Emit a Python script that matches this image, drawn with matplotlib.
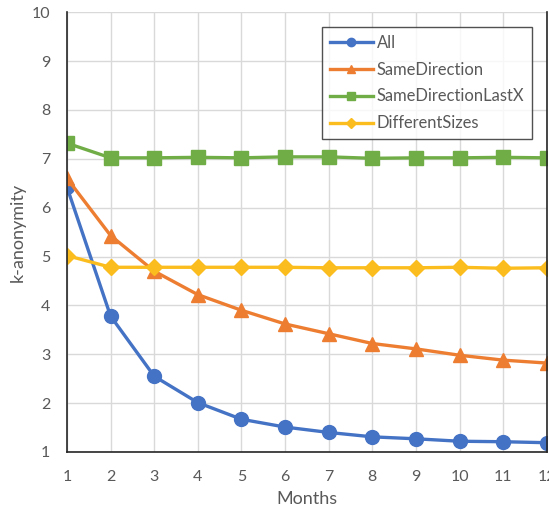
import numpy as np
import matplotlib
matplotlib.use("Agg")
import matplotlib.pyplot as plt

# Data
months = np.arange(1, 13)
k_all = [6.42, 3.78, 2.55, 2.01, 1.67, 1.51, 1.40, 1.31, 1.27, 1.22, 1.21, 1.19]
k_same_dir = [6.60, 5.43, 4.70, 4.22, 3.90, 3.62, 3.42, 3.22, 3.11, 2.98, 2.88, 2.82]
k_same_dir_lastx = [7.32, 7.02, 7.02, 7.03, 7.02, 7.04, 7.04, 7.01, 7.02, 7.02, 7.03, 7.02]
k_diff_sizes = [5.02, 4.78, 4.78, 4.78, 4.78, 4.78, 4.77, 4.77, 4.77, 4.78, 4.76, 4.77]

plt.rcParams["font.family"] = ["Lato", "DejaVu Sans"]
txt_color = "#595959"

fig = plt.figure(figsize=(5.49, 5.09), dpi=100)
ax = fig.add_axes([0.122, 0.112, 0.874, 0.864])

ax.plot(months, k_all, color="#4472C4", lw=2.4, marker="o", ms=10, label="All")
ax.plot(months, k_same_dir, color="#ED7D31", lw=2.4, marker="^", ms=10, label="SameDirection")
ax.plot(months, k_same_dir_lastx, color="#70AD47", lw=2.4, marker="s", ms=10, label="SameDirectionLastX")
ax.plot(months, k_diff_sizes, color="#FBBC1E", lw=2.4, marker="D", ms=8, label="DifferentSizes")

ax.set_xlim(1, 12)
ax.set_ylim(1, 10)
ax.set_xticks(months)
ax.set_yticks(range(1, 11))
ax.grid(True, color="#D9D9D9", lw=1)
ax.set_axisbelow(True)
ax.tick_params(axis="y", length=0, labelsize=11.5, labelcolor=txt_color, pad=12)
ax.tick_params(axis="x", length=0, labelsize=11.5, labelcolor=txt_color, pad=13)

for s in ["left", "bottom", "right"]:
    ax.spines[s].set_color("#262626")
    ax.spines[s].set_linewidth(1.2)
ax.spines["top"].set_visible(False)

ax.set_xlabel("Months", fontsize=13, color=txt_color, labelpad=5)
ax.set_ylabel("k-anonymity", fontsize=13, color=txt_color, labelpad=4)

leg = ax.legend(loc="upper right", bbox_to_anchor=(0.969, 0.966), fontsize=11.9,
                frameon=True, fancybox=False, edgecolor="#262626",
                handlelength=2.6, handletextpad=0.25, labelcolor=txt_color,
                borderpad=0.45, borderaxespad=0, labelspacing=0.66, markerscale=0.6)
leg.get_frame().set_linewidth(1)

fig.savefig("out.png", dpi=100)
